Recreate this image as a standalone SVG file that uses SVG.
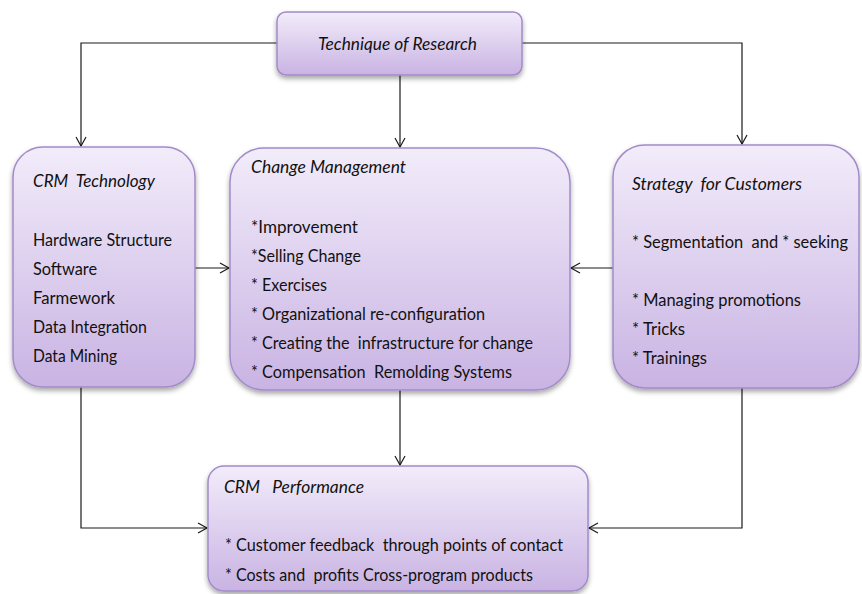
<svg xmlns="http://www.w3.org/2000/svg" width="862" height="594" viewBox="0 0 862 594">
<defs>
<linearGradient id="g" x1="0" y1="0" x2="0" y2="1">
<stop offset="0" stop-color="#f2ecfa"/>
<stop offset="1" stop-color="#c9b3e3"/>
</linearGradient>
<filter id="sh" x="-10%" y="-10%" width="120%" height="125%">
<feDropShadow dx="0" dy="3" stdDeviation="2.5" flood-color="#000" flood-opacity="0.35"/>
</filter>
<marker id="arr" markerWidth="12" markerHeight="12" refX="10" refY="6" orient="auto" markerUnits="userSpaceOnUse">
<path d="M1,1 L10,6 L1,11" fill="none" stroke="#1a1a1a" stroke-width="1.2"/>
</marker>
<style>
.box{fill:url(#g);stroke:#a18bc9;stroke-width:1.5;filter:url(#sh)}
.t{font-family:Lato,"Liberation Sans",sans-serif;font-size:18px;fill:#111;white-space:pre}
.i{font-style:italic}
.c{fill:none;stroke:#1a1a1a;stroke-width:1.2;marker-end:url(#arr)}
</style>
</defs>
<g id="connectors">
<path class="c" d="M277,43 H81 V146"/>
<path class="c" d="M522,43 H742 V144"/>
<path class="c" d="M400,75 V147"/>
<path class="c" d="M195,268 H229"/>
<path class="c" d="M613,268 H571"/>
<path class="c" d="M400,390 V465"/>
<path class="c" d="M81,387 V528 H207"/>
<path class="c" d="M742,388 V528 H589"/>
</g>
<g id="technique">
<rect class="box" x="277" y="12" width="245" height="63" rx="9"/>
<text class="t i" x="318" y="50" textLength="159" lengthAdjust="spacingAndGlyphs">Technique of Research</text>
</g>
<g id="crm-technology">
<rect class="box" x="13" y="147" width="182" height="240" rx="30"/>
<text class="t i" x="33" y="187" textLength="122" lengthAdjust="spacingAndGlyphs" xml:space="preserve">CRM  Technology</text>
<text class="t" x="33" y="246" textLength="139" lengthAdjust="spacingAndGlyphs">Hardware Structure</text>
<text class="t" x="33" y="275" textLength="64" lengthAdjust="spacingAndGlyphs">Software</text>
<text class="t" x="33" y="304" textLength="82" lengthAdjust="spacingAndGlyphs">Farmework</text>
<text class="t" x="33" y="333" textLength="114" lengthAdjust="spacingAndGlyphs">Data Integration</text>
<text class="t" x="33" y="362" textLength="84" lengthAdjust="spacingAndGlyphs">Data Mining</text>
</g>
<g id="change-management">
<rect class="box" x="230" y="148" width="340" height="242" rx="34"/>
<text class="t i" x="251" y="173" textLength="155" lengthAdjust="spacingAndGlyphs">Change Management</text>
<text class="t" x="251" y="233" textLength="107" lengthAdjust="spacingAndGlyphs">*Improvement</text>
<text class="t" x="251" y="262" textLength="110" lengthAdjust="spacingAndGlyphs">*Selling Change</text>
<text class="t" x="251" y="291" textLength="76" lengthAdjust="spacingAndGlyphs">* Exercises</text>
<text class="t" x="251" y="320" textLength="234" lengthAdjust="spacingAndGlyphs">* Organizational re-configuration</text>
<text class="t" x="251" y="349" textLength="282" lengthAdjust="spacingAndGlyphs" xml:space="preserve">* Creating the  infrastructure for change</text>
<text class="t" x="251" y="378" textLength="261" lengthAdjust="spacingAndGlyphs" xml:space="preserve">* Compensation  Remolding Systems</text>
</g>
<g id="strategy">
<rect class="box" x="613" y="145" width="246" height="243" rx="32"/>
<text class="t i" x="632" y="190" textLength="170" lengthAdjust="spacingAndGlyphs" xml:space="preserve">Strategy  for Customers</text>
<text class="t" x="632" y="248" textLength="216" lengthAdjust="spacingAndGlyphs" style="font-size:16.5px" xml:space="preserve">* Segmentation  and * seeking</text>
<text class="t" x="632" y="306" textLength="169" lengthAdjust="spacingAndGlyphs">* Managing promotions</text>
<text class="t" x="632" y="335" textLength="53" lengthAdjust="spacingAndGlyphs">* Tricks</text>
<text class="t" x="632" y="364" textLength="75" lengthAdjust="spacingAndGlyphs">* Trainings</text>
</g>
<g id="crm-performance">
<rect class="box" x="208" y="466" width="380" height="125" rx="16"/>
<text class="t i" x="224" y="493" textLength="140" lengthAdjust="spacingAndGlyphs" xml:space="preserve">CRM   Performance</text>
<text class="t" x="225" y="551" textLength="338" lengthAdjust="spacingAndGlyphs" xml:space="preserve">* Customer feedback  through points of contact</text>
<text class="t" x="225" y="581" textLength="308" lengthAdjust="spacingAndGlyphs" xml:space="preserve">* Costs and  profits Cross-program products</text>
</g>
</svg>
